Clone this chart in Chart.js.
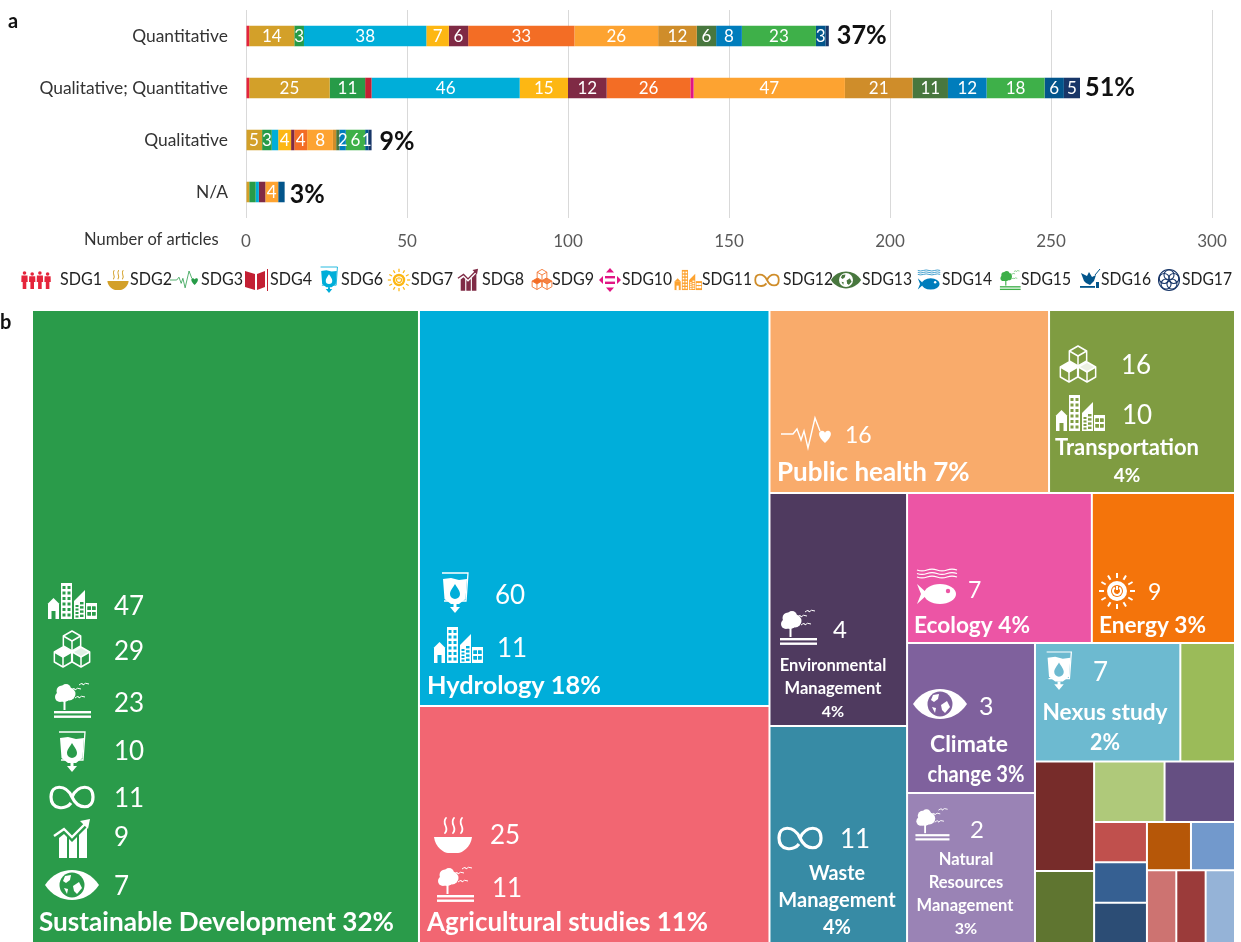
<!DOCTYPE html>
<html><head><meta charset="utf-8">
<script src="https://cdn.jsdelivr.net/npm/chart.js@4/dist/chart.umd.min.js"></script>
<style>
html,body{margin:0;padding:0;background:#fff;width:1241px;height:942px;overflow:hidden}
canvas{position:absolute;left:0;display:block}
#a{top:0}#b{top:300px}
</style></head><body>
<canvas id="a" width="1241" height="300"></canvas>
<canvas id="b" width="1241" height="643"></canvas>
<script>
// ---------- panel a data ----------
const categories = ['Quantitative','Qualitative; Quantitative','Qualitative','N/A'];
const sdgNames = ['SDG1','SDG2','SDG3','SDG4','SDG6','SDG7','SDG8','SDG9','SDG10','SDG11','SDG12','SDG13','SDG14','SDG15','SDG16','SDG17'];
const sdg1  = [1,1,0,0];
const sdg2  = [14,25,5,1];
const sdg3  = [3,11,3,2];
const sdg4  = [0,2,0,0];
const sdg6  = [38,46,2,1];
const sdg7  = [7,15,4,0];
const sdg8  = [6,12,1,2];
const sdg9  = [33,26,4,0];
const sdg10 = [0,1,0,0];
const sdg11 = [26,47,8,4];
const sdg12 = [12,21,1,0];
const sdg13 = [6,11,1,0];
const sdg14 = [8,12,2,0];
const sdg15 = [23,18,6,0];
const sdg16 = [3,6,1,2];
const sdg17 = [1,5,1,0];
const sharePercent = ['37%','51%','9%','3%'];
const xTicks = [0,50,100,150,200,250,300];
const extraLabels = [[2,'SDG14'],[2,'SDG16']]; // small segments that still carry a number
const hiddenLabels = [];

// ---------- panel b data: share of total area per cell (%) ----------
const cellIds = ['sustain','hydro','agri','health','transport','envMgmt','waste','ecology','energy','climate','natRes','nexus','c1','c2','c3','c4','c5','c6','c7','c8','c9','c10','c11','c12','c13'];
const cellShares = [32.17,18.23,10.91,6.72,4.47,4.21,3.92,3.64,2.82,2.52,2.52,2.26,0.85,0.85,0.56,0.56,0.56,0.28,0.28,0.28,0.28,0.28,0.28,0.28,0.28];
const cellTitles = {
 sustain:['Sustainable Development 32%'],hydro:['Hydrology 18%'],agri:['Agricultural studies 11%'],health:['Public health 7%'],
 transport:['Transportation','4%'],envMgmt:['Environmental','Management','4%'],waste:['Waste','Management','4%'],ecology:['Ecology 4%'],
 energy:['Energy 3%'],climate:['Climate','change 3%'],natRes:['Natural','Resources','Management','3%'],nexus:['Nexus study','2%']};
const cellCounts = {sustain:[47,29,23,10,11,9,7],hydro:[60,11],agri:[25,11],health:[16],transport:[16,10],envMgmt:[4],waste:[11],ecology:[7],energy:[9],climate:[3],natRes:[2],nexus:[7]};
const cellSdgs = {sustain:['SDG11','SDG9','SDG15','SDG6','SDG12','SDG8','SDG13'],hydro:['SDG6','SDG11'],agri:['SDG2','SDG15'],health:['SDG3'],transport:['SDG9','SDG11'],envMgmt:['SDG15'],waste:['SDG12'],ecology:['SDG14'],energy:['SDG7'],climate:['SDG13'],natRes:['SDG15'],nexus:['SDG6']};

// ---------- styles ----------
const sdgColors = ['#E5243B','#D3A029','#279B48','#C31F33','#00AED9','#FDB713','#7F2A45','#F36D25','#E11484','#FDA331','#CF8D2A','#48773E','#007DBC','#3EB049','#02558B','#183668'];
const cellColors = ['#2A9B4A','#00AEDA','#F26672','#F9AB6B','#7F9C41','#4F3A5F','#378BA5','#EC55A5','#F4740B','#7F619D','#9A83B5','#6DBAD0','#9BBB59','#772C2A','#5F7530','#AFC97A','#654F82','#C0504D','#366092','#2C4D75','#B65708','#7299CC','#CD7371','#9B3B3A','#95B3D7'];
const FONT='Lato, "Open Sans", sans-serif';

// nesting of the treemap: 'h' splits left to right, 'v' splits top to bottom
const treeShape = ['h','sustain',['v','hydro','agri'],
 ['v',['h','health','transport'],
  ['h',['v','envMgmt','waste'],
   ['v',['h','ecology','energy'],
    ['h',['v','climate','natRes'],
     ['v',['h','nexus','c1'],
      ['h',['v','c2','c3'],
       ['v',['h','c4','c5'],
        ['h',['v','c6','c7','c8'],
         ['v',['h','c9','c10'],['h','c11','c12','c13']]]]]]]]]]];

// ---------- icons, in a box about as large as the biggest white version ----------
function P(c,pts,close){c.beginPath();pts.forEach((p,i)=>i?c.lineTo(p[0],p[1]):c.moveTo(p[0],p[1]));if(close)c.closePath();}
function circ(c,x,y,r){c.beginPath();c.arc(x,y,r,0,Math.PI*2);}
const icons={
 people(c,f,b){for(let i=0;i<4;i++){const x=-11.5+7.7*i,k=i%2?0.85:1;c.fillStyle=f;circ(c,x,-7*k,1.8);c.fill();
   P(c,[[x-3,-4.5*k],[x+3,-4.5*k],[x+3.2,2],[x+1.8,2],[x+1.8,9],[x-1.8,9],[x-1.8,2],[x-3.2,2]],1);c.fill();}},
 bowl(c,f){c.fillStyle=f;c.beginPath();c.moveTo(-19,2);c.lineTo(19,2);c.bezierCurveTo(18,12,9,18,5,18);c.lineTo(-5,18);c.bezierCurveTo(-9,18,-18,12,-19,2);c.fill();
   c.strokeStyle=f;c.lineWidth=1.8;c.lineCap='round';[-8,0,8].forEach(x=>{c.beginPath();c.moveTo(x+1,-17);c.bezierCurveTo(x-4,-11,x+5,-8,x,-2);c.stroke();});},
 pulse(c,f){c.strokeStyle=f;c.lineWidth=1.4;c.lineJoin='miter';P(c,[[-25,0],[-13,0],[-9,-5],[-5,6],[-2,-3],[2,14],[9,-16],[14,-3]]);c.stroke();
   c.fillStyle=f;c.beginPath();c.moveTo(19,9);c.bezierCurveTo(12,3,12,-2,15,-3);c.bezierCurveTo(17,-4,19,-2,19,-1);c.bezierCurveTo(19,-2,21,-4,23,-3);c.bezierCurveTo(26,-2,26,3,19,9);c.fill();},
 book(c,f){c.fillStyle=f;P(c,[[-11,-9],[-1,-6],[-1,10],[-11,7]],1);c.fill();P(c,[[1,-6],[9,-9],[9,7],[1,10]],1);c.fill();c.fillRect(11,-11,1,22);},
 drop(c,f,b){c.fillStyle=f;c.strokeStyle=f;c.lineWidth=1.3;P(c,[[-13,-20],[13,-20],[11,8],[-11,8]],0);c.stroke();
   P(c,[[-12,-14],[-4,-15],[4,-13],[12,-14],[10.5,6],[4,11],[-4,11],[-10.5,6]],1);c.fill();
   c.fillStyle=b;c.beginPath();c.moveTo(0,-9);c.bezierCurveTo(3,-4,5,-2,5,1);c.arc(0,1,5,0,Math.PI);c.bezierCurveTo(-5,-2,-3,-4,0,-9);c.fill();
   c.fillStyle=f;c.fillRect(-1.5,11,3,4);P(c,[[-5,14],[5,14],[0,20]],1);c.fill();},
 sun(c,f,b){c.fillStyle=f;circ(c,0,0,10);c.fill();c.fillStyle=b;circ(c,0,0,6);c.fill();c.strokeStyle=f;c.lineWidth=2;c.beginPath();c.arc(0,0,4,-1,Math.PI+1);c.stroke();c.beginPath();c.moveTo(0,-5);c.lineTo(0,-1);c.stroke();
   for(let i=0;i<12;i++){const a=i*Math.PI/6;c.beginPath();c.moveTo(13*Math.cos(a),13*Math.sin(a));c.lineTo(18*Math.cos(a),18*Math.sin(a));c.stroke();}},
 growth(c,f){c.fillStyle=f;P(c,[[-13,-1],[-8,-5],[-5,-2],[-5,19],[-13,19]],1);c.fill();P(c,[[-3,0],[0,3],[5,-2],[5,19],[-3,19]],1);c.fill();P(c,[[7,-4],[15,-12],[15,19],[7,19]],1);c.fill();c.strokeStyle=f;c.lineWidth=2.4;P(c,[[-18,-3],[-8,-10],[0,-2],[14,-16]]);c.stroke();P(c,[[8,-18],[18,-20],[16,-10]],1);c.fill();},
 cubes(c,f,b){c.strokeStyle=f;c.lineWidth=1.5;c.lineJoin='round';const cube=(x,y,r)=>{const h=r*0.866;P(c,[[x,y-r],[x+h,y-r/2],[x+h,y+r/2],[x,y+r],[x-h,y+r/2],[x-h,y-r/2]],1);c.stroke();P(c,[[x-h,y-r/2],[x,y],[x+h,y-r/2]]);c.stroke();P(c,[[x,y],[x,y+r]]);c.stroke();};
   cube(0,-9,10);cube(-9,7,10);cube(9,7,10);c.fillStyle=f;P(c,[[-9,-3],[0,2],[-9,7],[-17.7,2]],1);c.fill();P(c,[[9,-3],[17.7,2],[9,7],[0,2]],1);c.globalAlpha=.85;c.fill();c.globalAlpha=1;},
 ineq(c,f){c.fillStyle=f;c.fillRect(-5,-4,10,2.4);c.fillRect(-5,1.6,10,2.4);P(c,[[-11,0],[-7,-4],[-7,4]],1);c.fill();P(c,[[11,0],[7,-4],[7,4]],1);c.fill();P(c,[[0,-12],[-4,-7.5],[4,-7.5]],1);c.fill();P(c,[[0,12],[-4,7.5],[4,7.5]],1);c.fill();},
 city(c,f,b){c.fillStyle=f;P(c,[[-24.5,3],[-18.5,-3],[-12.5,3]],1);c.fill();c.fillRect(-24,3,11,15);c.fillRect(-11,-18,11,36);P(c,[[2,0],[13,-11],[13,18],[2,18]],1);c.fill();c.fillRect(14,2,11,16);
   c.fillStyle=b;c.fillRect(-20.5,10,4,8);for(let i=0;i<6;i++){c.fillRect(-9.5,-15+i*5.5,3,3);c.fillRect(-4.5,-15+i*5.5,3,3);}
   for(let i=0;i<4;i++){c.fillRect(3.5,4+i*3.5,3,2);c.fillRect(8,1+i*4.2,3.5,2.4);c.fillRect(15.5,5.5+(i%2)*5.5,3.5,3.5);c.fillRect(20,5.5+(i%2)*5.5,3.5,3.5);}},
 inf(c,f){c.strokeStyle=f;c.lineWidth=3.2;c.beginPath();c.moveTo(0,0);c.bezierCurveTo(6,-13,21,-13,21,0);c.bezierCurveTo(21,13,6,13,0,0);c.bezierCurveTo(-6,-13,-21,-13,-21,0);c.bezierCurveTo(-21,13,-6,13,-1,6);c.stroke();},
 eye(c,f,b){c.fillStyle=f;c.beginPath();c.moveTo(-27,0);c.bezierCurveTo(-14,-20,14,-20,27,0);c.bezierCurveTo(14,20,-14,20,-27,0);c.fill();c.fillStyle=b;circ(c,0,0,12.5);c.fill();
   c.fillStyle=f;P(c,[[-7,-9],[-1,-10],[-2,-5],[-6,-2],[-9,-4]],1);c.fill();P(c,[[1,1],[7,-3],[10,3],[5,9],[2,6]],1);c.fill();P(c,[[-8,3],[-4,4],[-5,9]],1);c.fill();},
 fish(c,f,b){c.strokeStyle=f;c.lineWidth=1.3;[-17,-13.5,-10].forEach(y=>{c.beginPath();c.moveTo(-20,y);for(let i=0;i<4;i++)c.quadraticCurveTo(-15+i*10,y+(i%2?-1.8:1.8),-10+i*10,y);c.stroke();});
   c.fillStyle=f;c.beginPath();c.ellipse(3,7,16,10,0,0,Math.PI*2);c.fill();P(c,[[-9,7],[-20,-3],[-16,7],[-20,17]],1);c.fill();c.fillStyle=b;circ(c,11,4,2.2);c.fill();},
 tree(c,f){c.fillStyle=f;[[-10,-9,5.5],[-12,-3,5],[-6,-11,5],[-3,-6,6.5],[-8,-4,6]].forEach(a=>{circ(c,a[0],a[1],a[2]);c.fill();});c.fillRect(-8.5,0,2,10);c.fillRect(-18,11,37,2.4);c.fillRect(-18,15.5,37,2.4);
   c.strokeStyle=f;c.lineWidth=1;[[3,-11],[11,-16],[7,-3]].forEach(p=>{c.beginPath();c.moveTo(p[0]-4,p[1]+1);c.quadraticCurveTo(p[0],p[1]-2,p[0],p[1]+1);c.quadraticCurveTo(p[0]+2,p[1]-2,p[0]+6,p[1]);c.stroke();});},
 dove(c,f){c.fillStyle=f;P(c,[[-9,-7],[-3,-4],[-1,-8],[2,-3],[6,-5],[4,1],[0,5],[-4,3],[-6,1]],1);c.fill();c.fillRect(-10,6,15,1.8);c.fillRect(6,2,3,6);c.strokeStyle=f;c.lineWidth=1;P(c,[[5,-5],[10,-11]]);c.stroke();},
 rings(c,f){c.strokeStyle=f;c.lineWidth=1.1;circ(c,0,0,10.5);c.stroke();for(let i=0;i<5;i++){const a=-Math.PI/2+i*2*Math.PI/5;circ(c,5*Math.cos(a),5*Math.sin(a),5);c.stroke();}}
};
const sdgIcon={SDG1:'people',SDG2:'bowl',SDG3:'pulse',SDG4:'book',SDG6:'drop',SDG7:'sun',SDG8:'growth',SDG9:'cubes',SDG10:'ineq',SDG11:'city',SDG12:'inf',SDG13:'eye',SDG14:'fish',SDG15:'tree',SDG16:'dove',SDG17:'rings'};
function drawIcon(c,name,x,y,s,fg,bg){c.save();c.translate(x,y);c.scale(s,s);icons[name](c,fg,bg);c.restore();}

function txt(c,t,x,y,size,color,o={}){c.save();c.font=(o.bold?'bold ':'')+size+'px '+FONT;c.fillStyle=color;c.textAlign=o.align||'left';c.textBaseline='middle';
  if(o.w)c.fillText(t,x,y,o.w);else c.fillText(t,x,y);c.restore();}

// ---------- panel a ----------
const legendIconX=[36,118,184,256,329,399,468,542,610,688,767,846,929,1010,1090,1169];
const legendTextX=[60,130,201,270,341,411,482,552,622,702,783,862,942,1021,1101,1182];
const legendIconScale={people:1,book:1,ineq:1,dove:1,rings:1,drop:.65,sun:.62};
const pctNudge=[[8,0],[5,0],[8,2],[5,3]];
const pctW=[50,50,35,35];

const seriesValues=[sdg1,sdg2,sdg3,sdg4,sdg6,sdg7,sdg8,sdg9,sdg10,sdg11,sdg12,sdg13,sdg14,sdg15,sdg16,sdg17];
const panelA={id:'panelA',afterDatasetsDraw(ch){
  const c=ch.ctx,xs=ch.scales.x,ys=ch.scales.y;
  categories.forEach((cat,ci)=>{
    let run=0;
    seriesValues.forEach((vals,si)=>{
      const v=vals[ci];
      const extra=extraLabels.some(e=>e[0]===ci&&e[1]===sdgNames[si]);
      const isSliver=sdgNames[si]==='SDG17'&&v<3;
      if((v>=3&&!isSliver)||extra){txt(c,String(v),xs.getPixelForValue(run+v/2),ys.getPixelForValue(ci)+1,17,'#fff',{align:'center'});}
      run+=v;
    });
    txt(c,sharePercent[ci],xs.getPixelForValue(run)+pctNudge[ci][0],ys.getPixelForValue(ci)+pctNudge[ci][1],26,'#111',{bold:true,w:pctW[ci]});
  });
  txt(c,'a',8,22,20,'#111',{bold:true});
  txt(c,'Number of articles',84,240,16.5,'#333',{w:143});
  sdgNames.forEach((n,i)=>{
    const ic=sdgIcon[n];
    drawIcon(c,ic,legendIconX[i],280,legendIconScale[ic]||.56,sdgColors[i],'#fff');
    txt(c,n,legendTextX[i],280,17,'#222',{w:n.length>4?50:42});
  });
}};
new Chart(document.getElementById('a'),{
 type:'bar',
 data:{labels:categories,datasets:sdgNames.map((n,i)=>({label:n,data:seriesValues[i],backgroundColor:sdgColors[i],borderWidth:0,inflateAmount:0,barPercentage:.395,categoryPercentage:1}))},
 options:{indexAxis:'y',responsive:false,animation:false,
  events:[],
  layout:{padding:{top:10,right:29,left:0,bottom:0}},
  plugins:{legend:{display:false},tooltip:{enabled:false}},
  scales:{
   x:{stacked:true,min:0,max:300,afterBuildTicks(a){a.ticks=xTicks.map(v=>({value:v}));},
      afterFit(s){s.height=82;s.paddingTop=0;},
      grid:{color:'#d9d9d9',lineWidth:1,drawTicks:false},border:{display:false},
      ticks:{padding:13,maxRotation:0,color:'#595959',font:{family:FONT,size:17},autoSkip:false}},
   y:{stacked:true,afterFit(s){s.width=246;s.paddingTop=0;s.paddingBottom=0;},grid:{display:false,drawTicks:false},border:{display:false},
      ticks:{padding:18,color:'#333',font:{family:FONT,size:17.4},autoSkip:false}}
  }},
 plugins:[panelA]
});

// ---------- panel b ----------
class TreeCellController extends Chart.BarController{
  _calculateBarIndexPixels(index){
    const d=this.getDataset().data[index],xs=this._cachedMeta.iScale;
    const a=xs.getPixelForValue(d.x0),b=xs.getPixelForValue(d.x1);
    return {base:a,head:b,center:(a+b)/2,size:b-a};
  }
}
TreeCellController.id='treecell';
TreeCellController.defaults=Chart.BarController.defaults;
Chart.register(TreeCellController);

const shareOf=id=>cellShares[cellIds.indexOf(id)];
const nodeTotal=n=>typeof n==='string'?shareOf(n):n.slice(1).reduce((s,k)=>s+nodeTotal(k),0);
function layoutTree(n,x0,x1,y0,y1,out){
  if(typeof n==='string'){out[n]={x0,x1,y0,y1};return out;}
  const dir=n[0],kids=n.slice(1),tot=nodeTotal(n);let p=dir==='h'?x0:y1;
  kids.forEach(k=>{const f=nodeTotal(k)/tot;
    if(dir==='h'){const w=(x1-x0)*f;layoutTree(k,p,p+w,y0,y1,out);p+=w;}
    else{const h=(y1-y0)*f;layoutTree(k,x0,x1,p-h,p,out);p-=h;}
  });return out;
}
const boxes=layoutTree(treeShape,0,100,0,100,{});
const cellData=cellIds.map(id=>{const b=boxes[id];return {x:(b.x0+b.x1)/2,x0:b.x0,x1:b.x1,y:[b.y0,b.y1]};});

// placement of the icons, counts and titles inside the cells (page pixels)
const iconPlace={
 sustain:{ix:72,cx:114,iy:[601,650,700,752,797,839,885],cy:[605,650,702,750,797,836,885],s:1,size:26},
 hydro:{ix:[455,458],cx:[495,497],iy:[593,645],cy:[594,647],s:[1,1],size:26},
 agri:{ix:[453,455],cx:[490,492],iy:[835,884],cy:[834,887],s:[1,1],size:26},
 health:{ix:806,cx:845,iy:[434],cy:[434],s:1,size:23},
 transport:{ix:[1078,1080],cx:[1121,1122],iy:[365,413],cy:[364,414],s:[1,1],size:26},
 envMgmt:{ix:798,cx:833,iy:[627],cy:[628],s:1,size:24},
 waste:{ix:800,cx:840,iy:[838],cy:[838],s:1,size:26},
 ecology:{ix:937,cx:968,iy:[587],cy:[589],s:1,size:23},
 energy:{ix:1117,cx:1148,iy:[591],cy:[591],s:1,size:23},
 climate:{ix:940,cx:979,iy:[704],cy:[705],s:1,size:25},
 natRes:{ix:932,cx:970,iy:[824],cy:[828],s:.92,size:24},
 nexus:{ix:1059,cx:1093,iy:[671],cy:[671],s:.95,size:26}
};
const titlePlace={
 sustain:[[39,921,26.3,355]],hydro:[[427,684,25.5,174]],agri:[[427,921,26,281]],health:[[777,471,26,193]],
 transport:[[1127,446,22,144,1],[1127,474,19,29,1]],
 envMgmt:[[833,664,16.5,113,1],[833,687,16.5,104,1],[833,710,16,23,1]],
 waste:[[837,872,20,56,1],[837,899,20,121,1],[837,926,20,28,1]],
 ecology:[[914,624,23,116]],energy:[[1099,624,23,107]],
 climate:[[969,743,23,78,1],[976,773,23,97,1]],
 natRes:[[966,858,16.5,58,1],[966,881,16.5,82,1],[965,904,16.5,106,1],[966,927,16,23,1]],
 nexus:[[1105,711,23,125,1],[1105,741,23,30,1]]
};
const TOP=300;
const panelB={id:'panelB',afterDatasetsDraw(ch){
  const c=ch.ctx;
  txt(c,'b',0,323-TOP,20,'#111',{bold:true});
  Object.keys(cellTitles).forEach(id=>{
    const bg=cellColors[cellIds.indexOf(id)],pl=iconPlace[id];
    cellSdgs[id].forEach((sd,i)=>{
      const ix=Array.isArray(pl.ix)?pl.ix[i]:pl.ix,cx=Array.isArray(pl.cx)?pl.cx[i]:pl.cx,s=Array.isArray(pl.s)?pl.s[i]:pl.s;
      drawIcon(c,sdgIcon[sd],ix,pl.iy[i]-TOP,s,'#fff',bg);
      txt(c,String(cellCounts[id][i]),cx,pl.cy[i]-TOP+2,pl.size,'#fff');
    });
    cellTitles[id].forEach((t,i)=>{
      const p=titlePlace[id][i];
      txt(c,t,p[0],p[1]-TOP+1.5,p[2],'#fff',{bold:true,w:p[3],align:p[4]?'center':'left'});
    });
  });
}};
new Chart(document.getElementById('b'),{
 type:'treecell',
 data:{datasets:[{label:'Research field',data:cellData,backgroundColor:cellColors,borderColor:'#fff',borderWidth:1,borderSkipped:false,inflateAmount:0}]},
 options:{responsive:false,animation:false,events:[],
  layout:{padding:{left:32,right:6,top:10,bottom:0}},
  plugins:{legend:{display:false},tooltip:{enabled:false}},
  scales:{x:{type:'linear',min:0,max:100,offset:false,display:false},y:{type:'linear',min:0,max:100,display:false,beginAtZero:false}}
 },
 plugins:[panelB]
});
</script>
</body></html>
